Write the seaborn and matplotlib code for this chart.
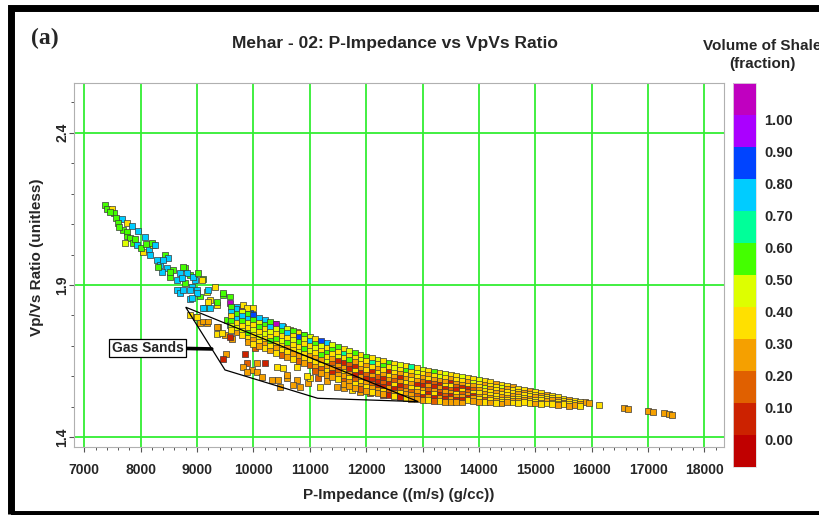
import numpy as np
import pandas as pd
import matplotlib
matplotlib.use("Agg")
import matplotlib.pyplot as plt
import seaborn as sns
from matplotlib.colors import ListedColormap, Normalize
from matplotlib.cm import ScalarMappable
from matplotlib.patches import Rectangle, Polygon
from matplotlib.transforms import ScaledTranslation

# ---------------------------------------------------------------
#  dados: (impedancia P, Vp/Vs, volume de folhelho)
# ---------------------------------------------------------------
# cauda superior esquerda (valores altos de Vp/Vs)
tail_pts = [
    (7367, 2.163, .55), (7408, 2.149, .55), (7486, 2.149, .35), (7527, 2.135, .55),
    (7562, 2.119, .55), (7674, 2.117, .75), (7603, 2.103, .55), (7763, 2.103, .35),
    (7841, 2.095, .75), (7692, 2.081, .55), (7752, 2.075, .55), (7958, 2.076, .75),
    (8077, 2.057, .75), (7752, 2.059, .55), (7811, 2.053, .55), (7869, 2.037, .55),
    (7722, 2.039, .45), (7929, 2.031, .75), (8047, 2.009, .35), (8153, 2.017, .75),
    (8224, 2.031, .35), (8200, 2.037, .55), (8165, 1.998, .75), (8284, 1.982, .75),
    (8431, 1.998, .55), (8490, 1.988, .75), (8343, 1.966, .75), (8461, 1.955, .75),
    (8373, 1.944, .75), (8579, 1.949, .55), (8786, 1.955, .55), (8697, 1.938, .75),
    (8520, 1.927, .55), (8639, 1.916, .75), (8875, 1.933, .55), (8963, 1.916, .75),
    (9111, 1.919, .55), (8786, 1.906, .55), (8905, 1.894, .75), (8994, 1.884, .75),
    (8639, 1.884, .75), (8697, 1.873, .75), (8875, 1.853, .75), (9052, 1.862, .55),
    (9171, 1.878, .45), (9318, 1.892, .35), (9230, 1.851, .35), (9141, 1.824, .55),
    (9465, 1.867, .55), (9584, 1.862, .55), (9348, 1.834, .35), (9584, 1.840, 1.05),
    (9703, 1.829, .75), (9762, 1.818, 1.05), (9998, 1.824, .35), (9939, 1.807, .85),
    (7450, 2.140, .55), (7620, 2.090, .55), (7900, 2.050, .55), (8000, 2.020, .55),
    (8100, 2.035, .55), (8254, 2.031, .75), (8401, 1.982, .75), (8313, 1.960, .55),
    (8520, 1.944, .55), (8756, 1.960, .55), (8816, 1.938, .75), (8728, 1.922, .75),
    (8933, 1.927, .75), (9022, 1.938, .55), (9082, 1.916, .35), (8756, 1.884, .75),
    (8875, 1.884, .75), (8994, 1.873, .75), (8905, 1.856, .75), (9199, 1.884, .75),
    (9465, 1.873, .55), (9199, 1.845, .35), (9348, 1.845, .55), (9111, 1.824, .75),
    (9230, 1.824, .75), (9820, 1.834, .35), (9880, 1.824, .35), (9643, 1.802, .55),
    (9525, 1.785, .55), (9584, 1.769, .75), (9792, 1.796, .55), (9880, 1.785, .75),
    (10116, 1.769, .55), (10205, 1.780, .75), (10234, 1.758, .75), (10441, 1.752, .75),
    (10530, 1.763, .35), (10648, 1.752, .35), (10767, 1.747, .35), (10884, 1.736, .35),
]

# pontos coloridos no topo da faixa principal
band_top_pts = [
    (9643, 1.807, .75), (9731, 1.787, .75), (9939, 1.779, .75), (10175, 1.776, .75),
    (10294, 1.769, .75), (10382, 1.771, 1.05), (9833, 1.769, .85), (10441, 1.722, .85),
    (10826, 1.714, .85), (11211, 1.711, .85), (11122, 1.714, .75), (11299, 1.687, .75),
    (9998, 1.800, .85), (10028, 1.785, .75),
]

# faixa principal, coluna por coluna: (impedancia, [vpvs...], [vsh...])
band_west = [
    (9600, [1.828, 1.812, 1.797, 1.781, 1.766, 1.752], [.55, .75, .35, .55, .45, .35]),
    (9700, [1.822, 1.806, 1.790, 1.775, 1.759, 1.744], [.75, .55, .75, .35, .45, .25]),
    (9800, [1.812, 1.797, 1.781, 1.766, 1.750, 1.735], [.45, .75, .55, .35, .45, .35]),
    (9900, [1.806, 1.790, 1.775, 1.758, 1.742, 1.727, 1.712], [.55, .75, .45, .35, .55, .35, .25]),
    (10000, [1.800, 1.784, 1.768, 1.752, 1.737, 1.721, 1.707], [.85, .55, .35, .45, .35, .25, .35]),
    (10100, [1.792, 1.776, 1.761, 1.745, 1.730, 1.714, 1.699], [.75, .45, .55, .35, .45, .35, .25]),
    (10200, [1.785, 1.769, 1.754, 1.738, 1.722, 1.707, 1.692], [.75, .55, .35, .45, .35, .25, .35]),
    (10300, [1.778, 1.762, 1.746, 1.731, 1.715, 1.700, 1.685], [.55, .75, .45, .35, .55, .35, .25]),
    (10400, [1.771, 1.755, 1.740, 1.724, 1.708, 1.693, 1.678], [1.05, .45, .35, .55, .35, .25, .35]),
    (10500, [1.764, 1.748, 1.733, 1.717, 1.701, 1.686, 1.671], [.75, .55, .35, .45, .35, .35, .15]),
    (10600, [1.756, 1.741, 1.725, 1.710, 1.694, 1.679, 1.664], [.45, .75, .35, .55, .25, .35, .25]),
    (10700, [1.750, 1.734, 1.719, 1.703, 1.688, 1.672, 1.657], [.55, .35, .45, .35, .35, .25, .35]),
    (10800, [1.744, 1.728, 1.712, 1.697, 1.681, 1.666, 1.650], [.35, .85, .55, .35, .45, .25, .15]),
    (10900, [1.737, 1.722, 1.706, 1.690, 1.675, 1.660, 1.645], [.55, .45, .35, .55, .35, .35, .25]),
    (11000, [1.730, 1.715, 1.699, 1.684, 1.668, 1.653, 1.638], [.45, .75, .35, .45, .25, .35, .15]),
]

band_mid = [
    (11100, [1.723, 1.708, 1.692, 1.677, 1.661, 1.646, 1.631, 1.618], [.35, .55, .45, .35, .25, .35, .25, .15]),
    (11200, [1.716, 1.700, 1.685, 1.670, 1.654, 1.639, 1.624, 1.611], [.85, .45, .35, .55, .25, .35, .15, .25]),
    (11300, [1.709, 1.694, 1.678, 1.663, 1.648, 1.633, 1.618, 1.604], [.75, .35, .55, .35, .45, .25, .35, .25]),
    (11400, [1.702, 1.687, 1.672, 1.657, 1.641, 1.626, 1.612, 1.598], [.45, .55, .35, .25, .15, .25, .05, .25]),
    (11500, [1.696, 1.681, 1.665, 1.650, 1.635, 1.620, 1.606, 1.592], [.55, .35, .45, .05, .25, .15, .25, .35]),
    (11600, [1.690, 1.674, 1.659, 1.644, 1.629, 1.614, 1.600, 1.586, 1.574], [.35, .65, .35, .05, .25, .35, .25, .15, .25]),
    (11700, [1.684, 1.668, 1.653, 1.638, 1.623, 1.608, 1.594, 1.580, 1.568], [.45, .35, .55, .15, .05, .25, .35, .25, .25]),
    (11800, [1.676, 1.661, 1.646, 1.631, 1.617, 1.603, 1.589, 1.575, 1.563], [.55, .35, .25, .05, .35, .05, .15, .35, .25]),
    (11900, [1.670, 1.655, 1.640, 1.625, 1.611, 1.597, 1.583, 1.570, 1.558], [.35, .45, .35, .25, .05, .25, .35, .25, .15]),
    (12000, [1.665, 1.650, 1.635, 1.620, 1.606, 1.592, 1.578, 1.565, 1.553], [.55, .35, .25, .35, .15, .05, .25, .35, .25]),
    (12100, [1.660, 1.645, 1.630, 1.615, 1.601, 1.587, 1.574, 1.561, 1.549], [.35, .65, .35, .05, .25, .05, .15, .25, .35]),
    (12200, [1.655, 1.640, 1.625, 1.611, 1.597, 1.583, 1.570, 1.557, 1.545], [.45, .35, .25, .35, .15, .05, .05, .25, .25]),
    (12300, [1.650, 1.635, 1.620, 1.606, 1.592, 1.579, 1.566, 1.553, 1.541], [.35, .55, .35, .25, .05, .15, .05, .35, .25]),
    (12400, [1.645, 1.630, 1.616, 1.602, 1.588, 1.575, 1.562, 1.550, 1.538], [.55, .35, .05, .35, .25, .05, .25, .15, .05]),
    (12500, [1.641, 1.626, 1.612, 1.598, 1.585, 1.572, 1.559, 1.547, 1.535], [.35, .45, .35, .25, .15, .35, .05, .25, .35]),
    (12600, [1.637, 1.622, 1.608, 1.594, 1.581, 1.568, 1.556, 1.544, 1.532], [.45, .35, .25, .05, .25, .05, .15, .35, .05]),
    (12700, [1.633, 1.618, 1.604, 1.591, 1.578, 1.565, 1.553, 1.541, 1.529], [.35, .55, .35, .25, .35, .15, .25, .25, .35]),
    (12800, [1.630, 1.615, 1.601, 1.588, 1.575, 1.562, 1.550, 1.538, 1.527], [.65, .35, .25, .35, .25, .35, .15, .25, .25]),
    (12900, [1.626, 1.611, 1.598, 1.585, 1.572, 1.560, 1.548, 1.536, 1.525], [.35, .45, .35, .25, .05, .35, .25, .15, .25]),
    (13000, [1.622, 1.608, 1.595, 1.582, 1.569, 1.557, 1.545, 1.534, 1.523], [.45, .35, .25, .15, .05, .25, .35, .05, .25]),
    (13100, [1.619, 1.605, 1.592, 1.579, 1.567, 1.555, 1.543, 1.532, 1.521], [.35, .25, .35, .05, .25, .15, .05, .25, .35]),
    (13200, [1.615, 1.601, 1.588, 1.576, 1.564, 1.552, 1.541, 1.530, 1.520], [.55, .35, .25, .15, .05, .25, .35, .05, .15]),
    (13300, [1.611, 1.598, 1.585, 1.573, 1.561, 1.550, 1.539, 1.528, 1.518], [.35, .45, .25, .05, .25, .15, .05, .25, .35]),
    (13400, [1.608, 1.595, 1.582, 1.570, 1.559, 1.548, 1.537, 1.527, 1.517], [.45, .35, .25, .35, .05, .25, .15, .05, .25]),
    (13500, [1.604, 1.591, 1.579, 1.567, 1.556, 1.545, 1.535, 1.525, 1.516], [.35, .25, .05, .35, .15, .25, .05, .25, .25]),
    (13600, [1.600, 1.588, 1.576, 1.565, 1.554, 1.543, 1.533, 1.524, 1.515], [.35, .35, .25, .15, .05, .35, .25, .05, .25]),
    (13700, [1.597, 1.585, 1.573, 1.562, 1.551, 1.541, 1.532, 1.523, 1.514], [.45, .35, .25, .05, .35, .15, .25, .05, .25]),
    (13800, [1.594, 1.582, 1.570, 1.559, 1.549, 1.539, 1.530, 1.521], [.35, .25, .35, .05, .15, .25, .05, .35]),
    (13900, [1.591, 1.579, 1.568, 1.557, 1.547, 1.537, 1.528, 1.519], [.35, .45, .25, .15, .35, .05, .25, .25]),
]

band_east = [
    (14000, [1.588, 1.576, 1.565, 1.554, 1.544, 1.534, 1.525, 1.517], [.45, .35, .35, .25, .35, .25, .35, .25]),
    (14100, [1.584, 1.573, 1.562, 1.551, 1.541, 1.532, 1.523, 1.515], [.35, .25, .45, .35, .25, .35, .15, .35]),
    (14200, [1.580, 1.569, 1.558, 1.548, 1.538, 1.529, 1.521, 1.514], [.35, .35, .25, .35, .35, .25, .35, .25]),
    (14300, [1.576, 1.565, 1.555, 1.545, 1.535, 1.527, 1.519, 1.512], [.25, .35, .35, .25, .35, .35, .25, .35]),
    (14400, [1.572, 1.561, 1.551, 1.541, 1.532, 1.524, 1.517, 1.511], [.35, .45, .25, .35, .25, .35, .35, .25]),
    (14500, [1.568, 1.558, 1.548, 1.539, 1.530, 1.523, 1.516], [.35, .25, .35, .35, .25, .35, .25]),
    (14600, [1.564, 1.554, 1.545, 1.536, 1.527, 1.520, 1.514], [.25, .35, .35, .25, .35, .25, .35]),
    (14700, [1.560, 1.550, 1.541, 1.533, 1.525, 1.518, 1.512], [.35, .35, .25, .35, .35, .25, .35]),
    (14800, [1.556, 1.547, 1.538, 1.530, 1.522, 1.515], [.35, .25, .35, .35, .25, .35]),
    (14900, [1.552, 1.543, 1.535, 1.527, 1.520, 1.513], [.25, .35, .35, .25, .35, .35]),
    (15000, [1.548, 1.539, 1.531, 1.524, 1.517, 1.511], [.35, .35, .25, .35, .35, .25]),
    (15100, [1.544, 1.536, 1.528, 1.521, 1.514, 1.508], [.35, .25, .35, .35, .25, .35]),
    (15200, [1.540, 1.532, 1.525, 1.518, 1.511], [.25, .35, .35, .25, .35]),
    (15300, [1.536, 1.528, 1.521, 1.514, 1.508], [.35, .35, .25, .35, .35]),
    (15400, [1.532, 1.524, 1.517, 1.511, 1.505], [.35, .25, .35, .35, .25]),
    (15500, [1.527, 1.520, 1.514, 1.508], [.35, .35, .25, .35]),
    (15600, [1.523, 1.516, 1.510, 1.504], [.25, .35, .35, .25]),
    (15700, [1.519, 1.513, 1.507], [.35, .35, .25]),
    (15800, [1.516, 1.510, 1.503], [.35, .25, .35]),
]

# pontos isolados a direita
east_tail_pts = [
    (15881, 1.515, .25), (15957, 1.512, .25), (16134, 1.506, .35), (16573, 1.495, .25),
    (16649, 1.492, .25), (17004, 1.486, .25), (17082, 1.483, .25), (17288, 1.479, .25),
    (17366, 1.475, .25), (17424, 1.472, .25),
]

# areias com gas (dentro do poligono)
gas_pts = [
    (8981, 1.796, .35), (9171, 1.776, .25), (9052, 1.774, .25), (9377, 1.763, .25),
    (9496, 1.736, .25), (9614, 1.722, .25), (9348, 1.738, .35), (9513, 1.673, .25),
    (9465, 1.656, .05), (9850, 1.673, .05), (10028, 1.692, .15), (9880, 1.645, .15),
    (10058, 1.643, .25), (10205, 1.645, .05), (9820, 1.630, .25), (9969, 1.621, .25),
    (9880, 1.615, .25), (10058, 1.615, .25), (10413, 1.630, .35), (10530, 1.627, .35),
    (10324, 1.588, .25), (10441, 1.588, .25), (10590, 1.594, .25), (10767, 1.588, .25),
    (10471, 1.566, .25), (10707, 1.572, .25), (10826, 1.566, .25), (10973, 1.577, .25),
    (11003, 1.594, .35), (11181, 1.566, .35), (11477, 1.566, .25), (10767, 1.632, .35),
    (10884, 1.654, .35), (11600, 1.562, .25), (11890, 1.550, .25), (12070, 1.545, .15),
    (12300, 1.540, .05), (12500, 1.538, .15), (12700, 1.535, .05), (11750, 1.556, .35),
    (10150, 1.598, .25), (10600, 1.605, .25), (10950, 1.600, .35), (11300, 1.585, .25),
    (11150, 1.595, .15), (8875, 1.802, .35), (8994, 1.796, .35), (9111, 1.780, .25),
    (9199, 1.780, .25), (9348, 1.763, .25), (9584, 1.730, .05), (9436, 1.741, .35),
]

gas_poly_imp = [8799, 9496, 11140, 12924]
gas_poly_vpvs = [1.827, 1.621, 1.528, 1.517]

# escala de cores (Vsh)
vsh_colors = ["#c00000", "#cc2200", "#e06000", "#f5a000", "#ffe000", "#ddff00",
              "#44ff00", "#00ff99", "#00ccff", "#0044ff", "#aa00ff", "#c000c0"]
vsh_ticks = [0.0, 0.1, 0.2, 0.3, 0.4, 0.5, 0.6, 0.7, 0.8, 0.9, 1.0]

x_ticks = list(range(7000, 18001, 1000))
y_ticks = [1.4, 1.9, 2.4]


# ---------------------------------------------------------------
#  monta o DataFrame
# ---------------------------------------------------------------
linhas = []
for imp, vp, vsh in tail_pts + band_top_pts + east_tail_pts + gas_pts:
    linhas.append({"imp": imp, "vpvs": vp, "vsh": vsh})
for imp, vps, vshs in band_west + band_mid + band_east:
    for vp, vsh in zip(vps, vshs):
        linhas.append({"imp": imp, "vpvs": vp, "vsh": vsh})
df = pd.DataFrame(linhas)

sns.set_theme(style="white")
plt.rcParams["font.family"] = ["Liberation Sans", "DejaVu Sans"]
plt.rcParams["font.weight"] = "bold"
plt.rcParams["axes.labelweight"] = "bold"

cmap = ListedColormap(vsh_colors)
norm = Normalize(vmin=-0.1, vmax=1.1)

fig = plt.figure(figsize=(8.2, 5.15), dpi=100)
ax = fig.add_axes([0.0902, 0.132, 0.7931, 0.7068])
cax = fig.add_axes([0.8943, 0.0932, 0.0277, 0.7456])

sns.scatterplot(data=df, x="imp", y="vpvs", hue="vsh", palette=cmap, hue_norm=norm,
                marker="s", s=18, edgecolor="#3a3a3a", linewidth=0.5,
                legend=False, ax=ax, zorder=3)

# poligono das areias com gas
poly = Polygon(list(zip(gas_poly_imp, gas_poly_vpvs)), closed=True, fill=False,
               ec="black", lw=0.9, zorder=4)
ax.add_patch(poly)
ax.annotate("Gas Sands", xy=(9261, 1.690), xytext=(8121, 1.694),
            ha="center", va="center", fontsize=10, fontweight="bold",
            bbox=dict(boxstyle="square,pad=0.15", fc="white", ec="black", lw=0.9),
            arrowprops=dict(arrowstyle="-", lw=2.6, color="black", shrinkA=0, shrinkB=0),
            zorder=5)

ax.set_xlim(6817, 18352)
ax.set_ylim(1.368, 2.563)
ax.set_xticks(x_ticks)
ax.set_xticks(np.arange(7000, 18300, 200), minor=True)
ax.set_yticks(y_ticks)
ax.set_yticks(np.arange(1.4, 2.56, 0.1), minor=True)
ax.set_yticklabels([f"{v:.1f}" for v in y_ticks], rotation=90, va="center")

ax.grid(True, which="major", color="#33ee33", lw=1.3)
ax.set_axisbelow(True)
for sp in ax.spines.values():
    sp.set_color("#b0b0b0")
    sp.set_linewidth(0.8)
ax.tick_params(axis="both", which="major", length=3.5, width=0.8, color="#555555",
               labelsize=10, left=True, bottom=True)
ax.tick_params(axis="both", which="minor", length=2.5, width=0.7, color="#555555",
               left=True, bottom=True)
ax.tick_params(axis="x", pad=8)
ax.tick_params(axis="y", pad=0)

ax.set_xlabel("P-Impedance ((m/s) (g/cc))", fontsize=11, fontweight="bold", labelpad=8)
ax.set_ylabel("Vp/Vs Ratio (unitless)", fontsize=11, fontweight="bold")
ax.yaxis.set_label_coords(-0.046, 0.52)
ax.set_title("Mehar - 02: P-Impedance vs VpVs Ratio", fontsize=12.5, fontweight="bold",
             pad=25, x=0.494)

# barra de cores
cb = fig.colorbar(ScalarMappable(norm=norm, cmap=cmap), cax=cax, ticks=vsh_ticks)
cb.ax.set_yticklabels([f"{v:.2f}" for v in vsh_ticks])
cb.ax.tick_params(length=0, labelsize=10.5, pad=6)
cb.outline.set_edgecolor("#dddddd")
cb.outline.set_linewidth(0.6)
desloc = ScaledTranslation(0, -3 / 72, fig.dpi_scale_trans)
for lab in cb.ax.get_yticklabels():
    lab.set_transform(lab.get_transform() + desloc)
fig.text(762 / 820, 1 - 55 / 515, "Volume of Shale\n(fraction)", ha="center", va="center",
         fontsize=11, fontweight="bold", linespacing=1.35)

fig.text(31 / 820, 1 - 38 / 515, "(a)", ha="left", va="center", fontsize=17,
         fontweight="bold", family=["Liberation Serif", "DejaVu Serif"])

# moldura preta
fig.add_artist(Rectangle((0.014, 0.002), 0.992, 0.9815, transform=fig.transFigure,
                         fill=False, ec="black", lw=5, clip_on=False))

fig.savefig("out.png", dpi=100)
